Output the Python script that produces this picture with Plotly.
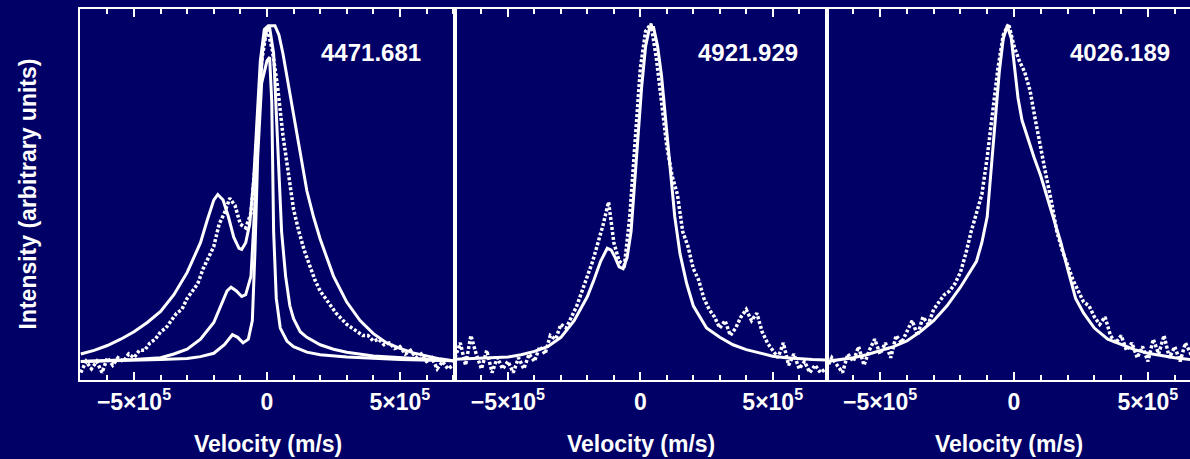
import plotly.graph_objects as go

# ---------------- data ----------------
v_grid = [-7.0e5, -6.8e5, -6.6e5, -6.4e5, -6.2e5, -6.0e5, -5.8e5, -5.6e5, -5.4e5, -5.2e5,
          -5.0e5, -4.8e5, -4.6e5, -4.4e5, -4.2e5, -4.0e5, -3.8e5, -3.6e5, -3.4e5, -3.2e5,
          -3.0e5, -2.8e5, -2.6e5, -2.4e5, -2.2e5, -2.0e5, -1.8e5, -1.6e5, -1.4e5, -1.2e5,
          -1.0e5, -0.8e5, -0.6e5, -0.4e5, -0.2e5, 0.0, 0.2e5, 0.4e5, 0.6e5, 0.8e5,
          1.0e5, 1.2e5, 1.4e5, 1.6e5, 1.8e5, 2.0e5, 2.2e5, 2.4e5, 2.6e5, 2.8e5,
          3.0e5, 3.2e5, 3.4e5, 3.6e5, 3.8e5, 4.0e5, 4.2e5, 4.4e5, 4.6e5, 4.8e5,
          5.0e5, 5.2e5, 5.4e5, 5.6e5, 5.8e5, 6.0e5, 6.2e5, 6.4e5, 6.6e5, 6.8e5, 7.0e5]

# Panel 1: He I 4471.681 observed
obs_4471 = [0.02, 0.05, 0.03, 0.05, 0.02, 0.06, 0.04, 0.06, 0.05, 0.07,
            0.06, 0.08, 0.08, 0.10, 0.11, 0.13, 0.14, 0.16, 0.18, 0.19,
            0.22, 0.24, 0.26, 0.30, 0.33, 0.36, 0.42, 0.45, 0.49, 0.47,
            0.42, 0.41, 0.45, 0.62, 0.86, 0.95, 0.89, 0.79, 0.66, 0.56,
            0.46, 0.40, 0.35, 0.31, 0.27, 0.24, 0.22, 0.20, 0.18, 0.165,
            0.15, 0.14, 0.13, 0.12, 0.12, 0.105, 0.11, 0.095, 0.10, 0.085,
            0.09, 0.07, 0.08, 0.06, 0.07, 0.05, 0.06, 0.03, 0.05, 0.03, 0.04]

# Panel 1 models (broad, medium, narrow)
v_m4471_a = [-7.0e5, -6.5e5, -6.0e5, -5.5e5, -5.0e5, -4.5e5, -4.0e5, -3.5e5, -3.0e5, -2.5e5,
             -2.25e5, -2.0e5, -1.85e5, -1.65e5, -1.45e5, -1.25e5, -1.05e5, -0.95e5, -0.8e5, -0.65e5,
             -0.5e5, -0.38e5, -0.25e5, -0.1e5, 0.05e5, 0.3e5, 0.45e5, 0.6e5, 0.8e5, 1.0e5,
             1.25e5, 1.5e5, 1.75e5, 2.0e5, 2.5e5, 3.0e5, 3.5e5, 4.0e5, 4.5e5, 5.0e5,
             5.5e5, 6.0e5, 6.5e5, 7.0e5]
m4471_a = [0.07, 0.08, 0.093, 0.11, 0.13, 0.155, 0.185, 0.23, 0.29, 0.37,
           0.43, 0.485, 0.50, 0.485, 0.44, 0.385, 0.355, 0.352, 0.37, 0.42,
           0.54, 0.70, 0.86, 0.945, 0.955, 0.955, 0.93, 0.88, 0.80, 0.72,
           0.61, 0.51, 0.44, 0.38, 0.28, 0.21, 0.16, 0.125, 0.10, 0.085,
           0.073, 0.064, 0.057, 0.052]

v_m4471_b = [-7.0e5, -6.0e5, -5.0e5, -4.0e5, -3.5e5, -3.0e5, -2.5e5, -2.0e5, -1.75e5, -1.5e5,
             -1.35e5, -1.15e5, -0.95e5, -0.8e5, -0.6e5, -0.45e5, -0.3e5, -0.15e5, 0.0, 0.1e5,
             0.25e5, 0.4e5, 0.55e5, 0.7e5, 0.86e5, 1.0e5, 1.25e5, 1.5e5, 2.0e5, 2.5e5,
             3.0e5, 4.0e5, 5.0e5, 6.0e5, 7.0e5]
m4471_b = [0.05, 0.052, 0.055, 0.06, 0.07, 0.083, 0.11, 0.155, 0.20, 0.24,
           0.25, 0.24, 0.225, 0.23, 0.28, 0.48, 0.74, 0.90, 0.945, 0.95,
           0.88, 0.66, 0.40, 0.28, 0.20, 0.165, 0.13, 0.115, 0.095, 0.083,
           0.075, 0.065, 0.06, 0.055, 0.052]

v_m4471_c = [-7.0e5, -5.0e5, -4.0e5, -3.0e5, -2.5e5, -2.0e5, -1.6e5, -1.3e5, -1.1e5, -0.9e5,
             -0.7e5, -0.55e5, -0.45e5, -0.35e5, -0.2e5, 0.0, 0.1e5, 0.18e5, 0.25e5, 0.35e5,
             0.5e5, 0.75e5, 1.0e5, 1.5e5, 2.0e5, 3.0e5, 4.0e5, 5.0e5, 7.0e5]
m4471_c = [0.05, 0.052, 0.055, 0.058, 0.063, 0.072, 0.095, 0.122, 0.115, 0.10,
           0.11, 0.16, 0.35, 0.60, 0.80, 0.86, 0.87, 0.75, 0.40, 0.22,
           0.14, 0.105, 0.09, 0.075, 0.068, 0.062, 0.058, 0.055, 0.052]

# Panel 2: He I 4921.929
obs_4921 = [0.06, 0.10, 0.04, 0.12, 0.07, 0.03, 0.08, 0.02, 0.06, 0.03,
            0.05, 0.02, 0.06, 0.03, 0.07, 0.05, 0.09, 0.07, 0.12, 0.11,
            0.15, 0.14, 0.17, 0.20, 0.24, 0.28, 0.32, 0.37, 0.42, 0.48,
            0.37, 0.32, 0.31, 0.44, 0.65, 0.84, 0.94, 0.96, 0.87, 0.74,
            0.63, 0.55, 0.50, 0.40, 0.36, 0.30, 0.27, 0.22, 0.19, 0.17,
            0.14, 0.16, 0.12, 0.14, 0.17, 0.19, 0.16, 0.18, 0.13, 0.10,
            0.08, 0.06, 0.10, 0.04, 0.07, 0.03, 0.05, 0.02, 0.04, 0.02, 0.03]

v_m4921 = [-7.0e5, -6.5e5, -6.0e5, -5.5e5, -5.0e5, -4.5e5, -4.0e5, -3.5e5, -3.0e5, -2.5e5,
           -2.0e5, -1.75e5, -1.5e5, -1.25e5, -1.1e5, -0.95e5, -0.8e5, -0.65e5, -0.5e5, -0.35e5,
           -0.2e5, -0.1e5, 0.05e5, 0.2e5, 0.35e5, 0.5e5, 0.65e5, 0.8e5, 1.0e5, 1.13e5,
           1.3e5, 1.5e5, 1.75e5, 2.0e5, 2.5e5, 3.0e5, 3.5e5, 4.0e5, 4.5e5, 5.0e5,
           5.5e5, 6.0e5, 6.5e5, 7.0e5]
m4921 = [0.056, 0.057, 0.058, 0.06, 0.062, 0.068, 0.077, 0.09, 0.115, 0.16,
         0.225, 0.27, 0.32, 0.355, 0.35, 0.33, 0.305, 0.30, 0.33, 0.40,
         0.55, 0.66, 0.79, 0.90, 0.95, 0.95, 0.90, 0.82, 0.66, 0.57,
         0.44, 0.34, 0.26, 0.20, 0.14, 0.115, 0.095, 0.082, 0.072, 0.064,
         0.06, 0.057, 0.055, 0.054]

# Panel 3: He I 4026.189
obs_4026 = [0.03, 0.06, 0.04, 0.02, 0.07, 0.05, 0.09, 0.04, 0.08, 0.11,
            0.07, 0.10, 0.06, 0.12, 0.10, 0.13, 0.16, 0.12, 0.17, 0.15,
            0.19, 0.21, 0.23, 0.24, 0.26, 0.29, 0.34, 0.40, 0.45, 0.50,
            0.60, 0.72, 0.84, 0.93, 0.96, 0.90, 0.86, 0.83, 0.78, 0.70,
            0.62, 0.55, 0.48, 0.40, 0.35, 0.31, 0.27, 0.24, 0.21, 0.20,
            0.17, 0.15, 0.17, 0.12, 0.10, 0.12, 0.08, 0.10, 0.06, 0.09,
            0.05, 0.11, 0.07, 0.12, 0.06, 0.09, 0.05, 0.10, 0.07, 0.06, 0.08]

v_m4026 = [-7.0e5, -6.5e5, -6.0e5, -5.5e5, -5.0e5, -4.5e5, -4.0e5, -3.5e5, -3.0e5, -2.5e5,
           -2.0e5, -1.7e5, -1.4e5, -1.2e5, -1.0e5, -0.85e5, -0.7e5, -0.55e5, -0.4e5, -0.25e5,
           -0.1e5, 0.0, 0.15e5, 0.3e5, 0.5e5, 0.75e5, 1.0e5, 1.25e5, 1.5e5, 1.75e5,
           2.0e5, 2.3e5, 2.6e5, 3.0e5, 3.5e5, 4.0e5, 4.5e5, 5.0e5, 5.5e5, 6.0e5, 7.0e5]
m4026 = [0.05, 0.055, 0.06, 0.068, 0.078, 0.09, 0.105, 0.13, 0.16, 0.20,
         0.25, 0.285, 0.32, 0.37, 0.44, 0.57, 0.70, 0.83, 0.92, 0.955,
         0.92, 0.85, 0.76, 0.70, 0.655, 0.60, 0.55, 0.49, 0.43, 0.37,
         0.30, 0.22, 0.18, 0.14, 0.11, 0.095, 0.082, 0.072, 0.065, 0.06, 0.052]

line_labels = ["4471.681", "4921.929", "4026.189"]
tick_vals = [-5e5, 0, 5e5]
tick_text = ["\u22125\u00d710<sup>5</sup>", "0", "5\u00d710<sup>5</sup>"]

# ---------------- figure ----------------
BG = "#000066"
FONT = "Liberation Sans, Arial, Helvetica, sans-serif"
W = "white"

fig = go.Figure()

obs_style = dict(color=W, width=3.5, dash="3px,2px")
mod_style = dict(color=W, width=3)

fig.add_trace(go.Scatter(x=v_grid, y=obs_4471, mode="lines", line=obs_style, xaxis="x", yaxis="y"))
fig.add_trace(go.Scatter(x=v_m4471_a, y=m4471_a, mode="lines", line=mod_style, xaxis="x", yaxis="y"))
fig.add_trace(go.Scatter(x=v_m4471_b, y=m4471_b, mode="lines", line=mod_style, xaxis="x", yaxis="y"))
fig.add_trace(go.Scatter(x=v_m4471_c, y=m4471_c, mode="lines", line=mod_style, xaxis="x", yaxis="y"))

fig.add_trace(go.Scatter(x=v_grid, y=obs_4921, mode="lines", line=obs_style, xaxis="x2", yaxis="y2"))
fig.add_trace(go.Scatter(x=v_m4921, y=m4921, mode="lines", line=mod_style, xaxis="x2", yaxis="y2"))

fig.add_trace(go.Scatter(x=v_grid, y=obs_4026, mode="lines", line=obs_style, xaxis="x3", yaxis="y3"))
fig.add_trace(go.Scatter(x=v_m4026, y=m4026, mode="lines", line=mod_style, xaxis="x3", yaxis="y3"))

domains = [[80 / 1190, 455 / 1190], [455 / 1190, 827 / 1190], [827 / 1190, 1.0]]
ranges = [[-7.03e5, 7.07e5], [-7.0e5, 7.05e5], [-6.98e5, 6.57e5]]

def xaxis_cfg(i):
    return dict(
        domain=domains[i], range=ranges[i], anchor=["y", "y2", "y3"][i],
        showline=True, linecolor=W, linewidth=2, mirror="ticks",
        ticks="inside", ticklen=8, tickwidth=2, tickcolor=W,
        tickvals=tick_vals, ticktext=tick_text,
        tickfont=dict(family=FONT, size=23, color=W, weight="bold"),
        minor=dict(dtick=1e5, tick0=0, ticks="inside", ticklen=5, tickwidth=2, tickcolor=W),
        showgrid=False, zeroline=False, fixedrange=True,
    )

def yaxis_cfg(i):
    return dict(
        domain=[0, 1], range=[0, 1], anchor=["x", "x2", "x3"][i],
        showline=True, linecolor=W, linewidth=2, mirror=(i < 2),
        ticks="", showticklabels=False, showgrid=False, zeroline=False, fixedrange=True,
    )

fig.update_layout(
    width=1190, height=459,
    margin=dict(l=0, r=0, t=9, b=79),
    paper_bgcolor=BG, plot_bgcolor=BG,
    showlegend=False,
    xaxis=xaxis_cfg(0), xaxis2=xaxis_cfg(1), xaxis3=xaxis_cfg(2),
    yaxis=yaxis_cfg(0), yaxis2=yaxis_cfg(1), yaxis3=yaxis_cfg(2),
)

label_x = [0.915, 0.927, 0.950]
for i in range(3):
    xr = ["x domain", "x2 domain", "x3 domain"][i]
    yr = ["y domain", "y2 domain", "y3 domain"][i]
    fig.add_annotation(x=label_x[i], y=0.882, xref=xr, yref=yr, text=line_labels[i],
                       showarrow=False, xanchor="right", yanchor="middle",
                       font=dict(family=FONT, size=24, color=W, weight="bold"))
    fig.add_annotation(x=0.5, y=-0.172, xref=xr, yref="paper", text="Velocity (m/s)",
                       showarrow=False, xanchor="center", yanchor="middle",
                       font=dict(family=FONT, size=23, color=W, weight="bold"))

fig.add_annotation(x=27 / 1190, y=0.5, xref="paper", yref="paper",
                   text="Intensity (arbitrary units)", textangle=-90,
                   showarrow=False, xanchor="center", yanchor="middle",
                   font=dict(family=FONT, size=23, color=W, weight="bold"))

fig.write_html(
    "out.html",
    config={"displayModeBar": False},
    post_script="document.body.style.margin='0';document.body.style.background='#000066';",
)
